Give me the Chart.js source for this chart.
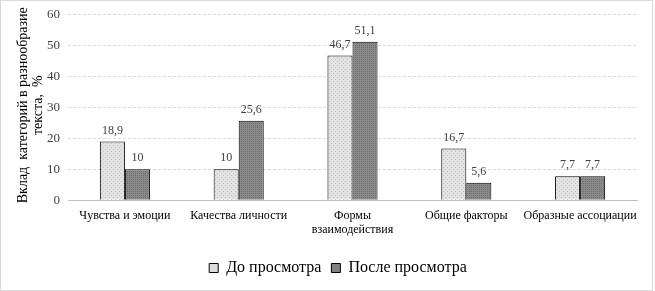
<!DOCTYPE html>
<html><head><meta charset="utf-8">
<script src="https://cdn.jsdelivr.net/npm/chart.js@4/dist/chart.umd.min.js"></script>
<style>
html,body{margin:0;padding:0;background:#fff;}
#wrap{position:absolute;left:0;top:0;width:651px;height:289px;border:1px solid #d9d9d9;}
</style></head><body>
<div id="wrap"><canvas id="c" width="651" height="289"></canvas></div>
<script>
const categories = ["Чувства и эмоции", "Качества личности", ["Формы", "взаимодействия"], "Общие факторы", "Образные ассоциации"];
const seriesNames = ["До просмотра", "После просмотра"];
const before = [18.9, 10, 46.7, 16.7, 7.7];
const after = [10, 25.6, 51.1, 5.6, 7.7];
const yTicks = [0, 10, 20, 30, 40, 50, 60];
const yTitle = ["Вклад  категорий в разнообразие", "текста,  %"];

function pattern(bg, fg, dense) {
  const p = document.createElement('canvas');
  p.width = 4; p.height = 4;
  const g = p.getContext('2d');
  g.fillStyle = bg; g.fillRect(0,0,4,4);
  g.fillStyle = fg;
  if (dense) { g.fillRect(0,0,1,1); g.fillRect(2,2,1,1); g.fillRect(2,0,1,1); g.fillRect(0,2,1,1);}
  else { g.fillRect(0,0,1,1); g.fillRect(2,2,1,1); }
  return document.getElementById('c').getContext('2d').createPattern(p, 'repeat');
}
const lightFill = pattern('#e2e2e2', '#c4c4c4', false);
const darkFill = pattern('#8a8a8a', '#6e6e6e', true);

const fontFam = '"Liberation Serif", "Times New Roman", serif';
const labelPlugin = {
  id: 'vals',
  afterDatasetsDraw(chart) {
    const ctx = chart.ctx;
    ctx.save();
    ctx.font = '12px ' + fontFam;
    ctx.fillStyle = '#404040';
    ctx.textAlign = 'center';
    ctx.textBaseline = 'bottom';
    chart.data.datasets.forEach((ds, i) => {
      chart.getDatasetMeta(i).data.forEach((bar, j) => {
        ctx.fillText(String(ds.data[j]).replace('.', ','), bar.x, bar.y - 5);
      });
    });
    ctx.restore();
  }
};
const titlePlugin = {
  id: 'ytitle',
  afterDraw(chart) {
    const ctx = chart.ctx;
    const a = chart.chartArea;
    const cy = (a.top + a.bottom) / 2 - 2;
    ctx.save();
    ctx.font = '14px ' + fontFam;
    ctx.fillStyle = '#000';
    ctx.textAlign = 'center';
    ctx.textBaseline = 'middle';
    yTitle.forEach((t, i) => {
      ctx.save();
      ctx.translate(22 + i * 15, cy);
      ctx.rotate(-Math.PI / 2);
      ctx.fillText(t, 0, 0);
      ctx.restore();
    });
    ctx.restore();
  }
};

new Chart(document.getElementById('c'), {
  type: 'bar',
  data: {
    labels: categories,
    datasets: [
      { label: seriesNames[0], data: before, backgroundColor: lightFill, borderColor: '#000', borderWidth: 1, categoryPercentage: 0.44, barPercentage: 1 },
      { label: seriesNames[1], data: after, backgroundColor: darkFill, borderColor: '#000', borderWidth: 1, categoryPercentage: 0.44, barPercentage: 1 }
    ]
  },
  options: {
    responsive: false,
    animation: false,
    layout: { padding: { left: 38, right: 15, top: 0, bottom: 4 } },
    plugins: {
      legend: {
        position: 'bottom',
        labels: { font: { family: fontFam, size: 16 }, color: '#000', boxWidth: 9, boxHeight: 9, padding: 10,
          generateLabels(chart) {
            return chart.data.datasets.map((ds, i) => ({ text: ds.label, fillStyle: i === 0 ? '#dcdcdc' : '#808080', strokeStyle: '#000', lineWidth: 1, datasetIndex: i }));
          } }
      },
      tooltip: { enabled: false }
    },
    scales: {
      x: {
        afterFit(scale) { scale.height += 13; },
        grid: { display: false },
        border: { color: '#bfbfbf' },
        ticks: { font: { family: fontFam, size: 12 }, color: '#000', maxRotation: 0, autoSkip: false, padding: 0 }
      },
      y: {
        min: 0, max: 60,
        afterBuildTicks(axis) { axis.ticks = yTicks.map(v => ({ value: v })); },
        grid: { color: '#d9d9d9', drawTicks: false },
        border: { display: false, dash: [3, 2] },
        ticks: { font: { family: fontFam, size: 13, lineHeight: 0.8 }, color: '#404040', padding: 8 }
      }
    }
  },
  plugins: [labelPlugin, titlePlugin]
});
</script>
</body></html>
